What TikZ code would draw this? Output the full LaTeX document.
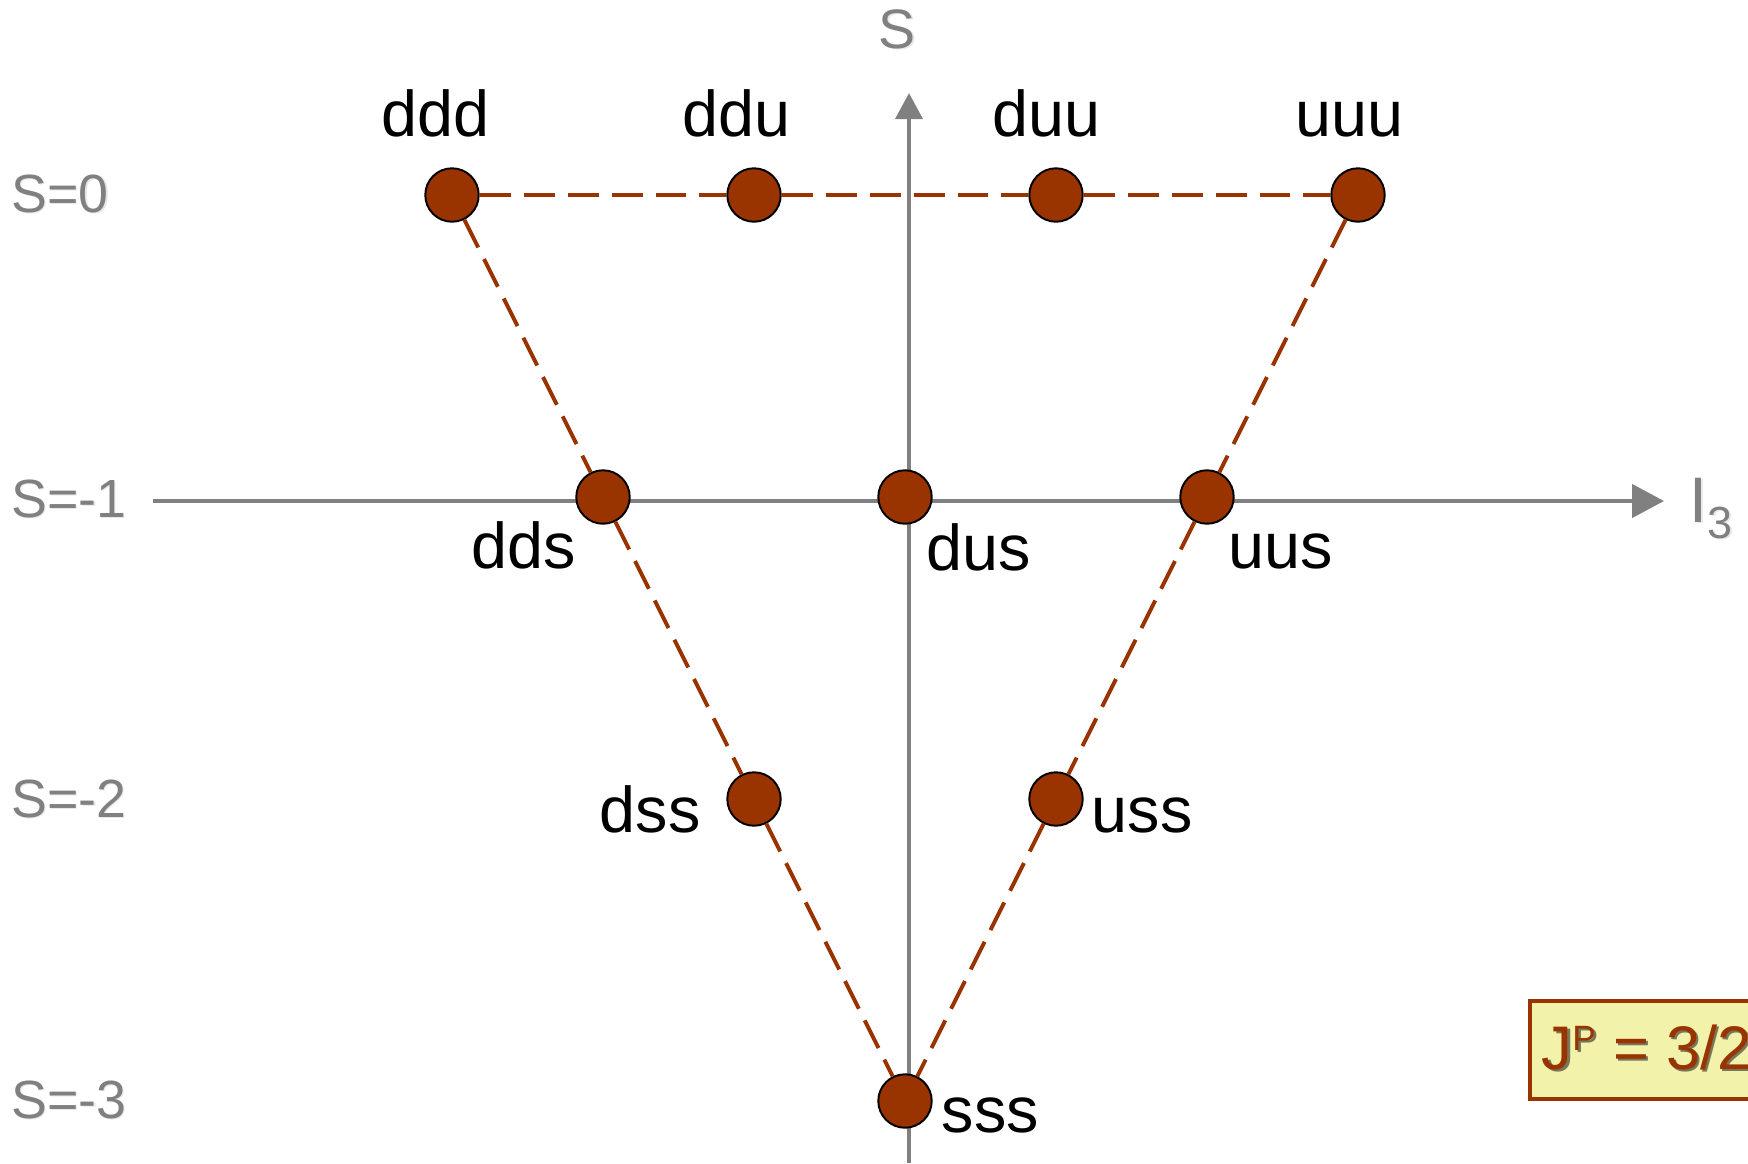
\documentclass[tikz,border=0pt]{standalone}
\usepackage{fontspec}
\setmainfont{Liberation Sans}
\usetikzlibrary{arrows.meta}
\definecolor{quark}{RGB}{153,51,0}
\definecolor{axisgray}{RGB}{128,128,128}
\definecolor{boxfill}{RGB}{242,242,170}

\begin{document}
\begin{tikzpicture}[x=0.01cm,y=-0.01cm,
  state/.style={circle,draw=black,line width=0.55pt,fill=quark,
                minimum size=15.2pt,inner sep=0pt},
  qlabel/.style={anchor=base west,inner sep=0pt,
                 font=\fontsize{18.4}{21}\selectfont},
  slabel/.style={anchor=base west,inner sep=0pt,text=axisgray,
                 font=\fontsize{15.3}{18}\selectfont},
  sshadow/.style={slabel,text=black!20,opacity=0.45},
  jptext/.style={anchor=base west,inner sep=0pt,
                 font=\fontsize{17.5}{20}\selectfont},
  link/.style={draw=quark,line width=1.1pt,dash pattern=on 8.8pt off 3.7pt},
  axisline/.style={draw=axisgray,line width=1.3pt}]
\useasboundingbox (0,0) rectangle (1748,1163);
\clip (0,0) rectangle (1748,1163);

% axes
\coordinate (sbot) at (909,1163);
\coordinate (stop) at (909,93);
\coordinate (ileft) at (153,501);
\coordinate (iright) at (1664,501);
\draw[axisline,-{Triangle[length=7.4pt,width=7.6pt]}] (sbot) -- (stop);
\draw[axisline,-{Triangle[length=9.1pt,width=9.4pt]}] (ileft) -- (iright);

% axis labels
\node[sshadow,font=\fontsize{15.8}{18}\selectfont] (saxis-sh) at (879.5,49.5) {S};
\node[slabel,font=\fontsize{15.8}{18}\selectfont] (saxis) at (878,48) {S};
\node[sshadow] (iaxis-sh) at (1690.5,523.5)
  {{\fontsize{18.3}{20}\selectfont I}\raisebox{-4.55pt}{\fontsize{12.8}{14}\selectfont 3}};
\node[slabel] (iaxis) at (1689,522)
  {{\fontsize{18.3}{20}\selectfont I}\raisebox{-4.55pt}{\fontsize{12.8}{14}\selectfont 3}};

% strangeness rows
\node[sshadow] (s0-sh) at (12,213.5) {S=0};
\node[slabel] (s0) at (10.5,212) {S=0};
\node[sshadow] (s1-sh) at (12,518.5) {S=-1};
\node[slabel] (s1) at (10.5,517) {S=-1};
\node[sshadow] (s2-sh) at (12,818.5) {S=-2};
\node[slabel] (s2) at (10.5,817) {S=-2};
\node[sshadow] (s3-sh) at (12,1119.5) {S=-3};
\node[slabel] (s3) at (10.5,1118) {S=-3};

% decuplet states
\node[state] (ddd) at (452,195) {};
\node[state] (ddu) at (754,195) {};
\node[state] (duu) at (1056,195) {};
\node[state] (uuu) at (1358,195) {};
\node[state] (dds) at (603,497) {};
\node[state] (dus) at (905,497) {};
\node[state] (uus) at (1207,497) {};
\node[state] (dss) at (754,799) {};
\node[state] (uss) at (1056,799) {};
\node[state] (sss) at (905,1101) {};

% triangle edges
\draw[link] (ddd) -- (ddu);
\draw[link] (ddu) -- (duu);
\draw[link] (duu) -- (uuu);
\draw[link] (ddd) -- (dds);
\draw[link] (dds) -- (dss);
\draw[link] (dss) -- (sss);
\draw[link] (uuu) -- (uus);
\draw[link] (uus) -- (uss);
\draw[link] (uss) -- (sss);

% quark content labels
\node[qlabel] (ddd-l) at (380.5,136.5) {ddd};
\node[qlabel] (ddu-l) at (682,136.5) {ddu};
\node[qlabel] (duu-l) at (992,136.5) {duu};
\node[qlabel] (uuu-l) at (1295,136.5) {uuu};
\node[qlabel] (dds-l) at (471,568) {dds};
\node[qlabel] (dus-l) at (926,570) {dus};
\node[qlabel] (uus-l) at (1228,568) {uus};
\node[qlabel] (dss-l) at (599,832) {dss};
\node[qlabel] (uss-l) at (1091,832) {uss};
\node[qlabel] (sss-l) at (941,1132) {sss};

% spin-parity tag, running off the right edge
\node[draw=quark,line width=1.15pt,fill=boxfill,anchor=north west,
      minimum width=95pt,minimum height=27.9pt,inner sep=0pt]
  (jpbox) at (1528,999) {};
\node[jptext,text=black!85,opacity=0.6] (jp-sh) at (1543.5,1071.5)
  {J\raisebox{5.4pt}{\fontsize{10}{12}\selectfont P} = 3/2};
\node[jptext,text=quark] (jp) at (1541,1069)
  {J\raisebox{5.4pt}{\fontsize{10}{12}\selectfont P} = 3/2};
\end{tikzpicture}
\end{document}
